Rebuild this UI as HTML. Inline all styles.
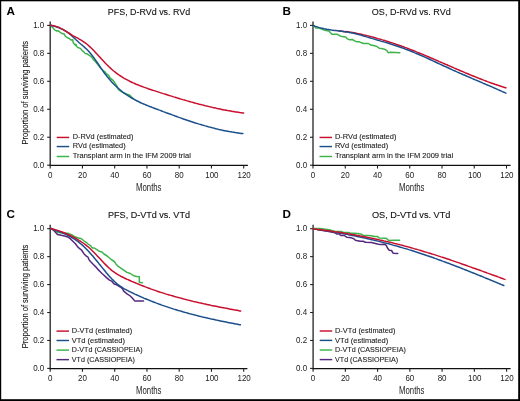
<!DOCTYPE html>
<html><head><meta charset="utf-8"><style>
html,body{margin:0;padding:0;background:#fff;width:520px;height:401px;overflow:hidden;font-family:"Liberation Sans",sans-serif;}
svg{display:block;will-change:transform}
</style></head><body>
<svg width="520" height="401" viewBox="0 0 520 401">
<rect width="520" height="401" fill="#fff"/>
<line x1="50.2" y1="21.5" x2="50.2" y2="165.98" stroke="#222" stroke-width="1.3"/>
<line x1="49.6" y1="165.38" x2="247.9" y2="165.38" stroke="#111" stroke-width="1.2"/>
<line x1="47.2" y1="165.20" x2="50.2" y2="165.20" stroke="#222" stroke-width="1.1"/>
<text transform="translate(44.30,167.65) scale(0.93,1)" text-anchor="end" font-size="8.6" font-family="Liberation Sans, sans-serif" fill="#1a1a1a">0.0</text>
<line x1="47.2" y1="137.24" x2="50.2" y2="137.24" stroke="#222" stroke-width="1.1"/>
<text transform="translate(44.30,139.69) scale(0.93,1)" text-anchor="end" font-size="8.6" font-family="Liberation Sans, sans-serif" fill="#1a1a1a">0.2</text>
<line x1="47.2" y1="109.28" x2="50.2" y2="109.28" stroke="#222" stroke-width="1.1"/>
<text transform="translate(44.30,111.73) scale(0.93,1)" text-anchor="end" font-size="8.6" font-family="Liberation Sans, sans-serif" fill="#1a1a1a">0.4</text>
<line x1="47.2" y1="81.32" x2="50.2" y2="81.32" stroke="#222" stroke-width="1.1"/>
<text transform="translate(44.30,83.77) scale(0.93,1)" text-anchor="end" font-size="8.6" font-family="Liberation Sans, sans-serif" fill="#1a1a1a">0.6</text>
<line x1="47.2" y1="53.36" x2="50.2" y2="53.36" stroke="#222" stroke-width="1.1"/>
<text transform="translate(44.30,55.81) scale(0.93,1)" text-anchor="end" font-size="8.6" font-family="Liberation Sans, sans-serif" fill="#1a1a1a">0.8</text>
<line x1="47.2" y1="25.40" x2="50.2" y2="25.40" stroke="#222" stroke-width="1.1"/>
<text transform="translate(44.30,27.85) scale(0.93,1)" text-anchor="end" font-size="8.6" font-family="Liberation Sans, sans-serif" fill="#1a1a1a">1.0</text>
<line x1="50.20" y1="165.38" x2="50.20" y2="168.57999999999998" stroke="#222" stroke-width="1.1"/>
<text transform="translate(50.20,177.80) scale(0.93,1)" text-anchor="middle" font-size="8.6" font-family="Liberation Sans, sans-serif" fill="#1a1a1a">0</text>
<line x1="82.45" y1="165.38" x2="82.45" y2="168.57999999999998" stroke="#222" stroke-width="1.1"/>
<text transform="translate(82.45,177.80) scale(0.93,1)" text-anchor="middle" font-size="8.6" font-family="Liberation Sans, sans-serif" fill="#1a1a1a">20</text>
<line x1="114.70" y1="165.38" x2="114.70" y2="168.57999999999998" stroke="#222" stroke-width="1.1"/>
<text transform="translate(114.70,177.80) scale(0.93,1)" text-anchor="middle" font-size="8.6" font-family="Liberation Sans, sans-serif" fill="#1a1a1a">40</text>
<line x1="146.95" y1="165.38" x2="146.95" y2="168.57999999999998" stroke="#222" stroke-width="1.1"/>
<text transform="translate(146.95,177.80) scale(0.93,1)" text-anchor="middle" font-size="8.6" font-family="Liberation Sans, sans-serif" fill="#1a1a1a">60</text>
<line x1="179.20" y1="165.38" x2="179.20" y2="168.57999999999998" stroke="#222" stroke-width="1.1"/>
<text transform="translate(179.20,177.80) scale(0.93,1)" text-anchor="middle" font-size="8.6" font-family="Liberation Sans, sans-serif" fill="#1a1a1a">80</text>
<line x1="211.45" y1="165.38" x2="211.45" y2="168.57999999999998" stroke="#222" stroke-width="1.1"/>
<text transform="translate(211.85,177.80) scale(0.93,1)" text-anchor="middle" font-size="8.6" font-family="Liberation Sans, sans-serif" fill="#1a1a1a">100</text>
<line x1="243.70" y1="165.38" x2="243.70" y2="168.57999999999998" stroke="#222" stroke-width="1.1"/>
<text transform="translate(244.10,177.80) scale(0.93,1)" text-anchor="middle" font-size="8.6" font-family="Liberation Sans, sans-serif" fill="#1a1a1a">120</text>
<text x="149" y="15" text-anchor="middle" font-size="9.6" font-family="Liberation Sans, sans-serif" fill="#111" stroke="#111" stroke-width="0.12" textLength="82.3" lengthAdjust="spacingAndGlyphs">PFS, D-RVd vs. RVd</text>
<text x="161.5" y="190.8" text-anchor="end" font-size="10" font-family="Liberation Sans, sans-serif" fill="#1a1a1a" textLength="25.4" lengthAdjust="spacingAndGlyphs">Months</text>
<text transform="translate(27.8,144.6) rotate(-90)" font-size="8.7" font-family="Liberation Sans, sans-serif" fill="#111" stroke="#111" stroke-width="0.08" textLength="103.6" lengthAdjust="spacingAndGlyphs">Proportion of surviving patients</text>
<text x="6.6" y="14.8" font-size="11.7" font-weight="bold" font-family="Liberation Sans, sans-serif" fill="#000">A</text>
<polyline points="50.7,25.3 52.9,27.7 54.6,29.9 56.8,31.0 58.4,30.7 60.1,32.3 62.3,33.7 63.9,33.7 65.5,36.4 67.7,37.8 69.4,38.6 71.0,40.0 72.7,39.7 73.2,42.5 75.4,45.2 76.0,44.4 76.6,46.5 78.5,47.8 80.4,48.4 82.0,50.4 83.8,51.9 85.0,53.4 86.8,53.7 88.6,54.9 91.0,56.4 92.5,57.9 93.4,59.7 93.9,59.9 96.0,62.2 99.0,66.0 101.0,68.6 103.5,70.8 104.5,71.3 106.0,73.4 108.8,75.6 110.0,77.8 113.0,80.3 115.2,83.4 117.0,86.3 118.5,89.6 121.0,91.3 124.0,93.0 127.0,94.3 129.9,95.3 131.0,96.5 134.3,99.5" fill="none" stroke="#3cb44a" stroke-width="1.5" stroke-linejoin="round" stroke-linecap="round"/>
<polyline points="50.7,25.3 52.2,25.7 53.7,26.1 55.2,26.5 56.7,27.0 58.2,27.5 59.7,28.1 61.2,28.7 62.7,29.4 64.2,30.2 65.7,31.1 67.2,32.1 68.7,33.2 70.2,34.4 71.7,35.8 73.2,37.1 74.7,38.5 76.2,40.0 77.7,41.3 79.2,42.7 80.7,44.0 82.2,45.2 83.7,46.5 85.2,47.9 86.7,49.2 88.2,50.7 89.7,52.4 91.2,54.2 92.7,56.1 94.2,58.1 95.7,60.3 97.2,62.5 98.7,64.7 100.2,67.0 101.7,69.2 103.2,71.4 104.7,73.5 106.2,75.4 107.7,77.3 109.2,79.1 110.7,80.8 112.2,82.4 113.7,84.0 115.2,85.5 116.7,86.9 118.2,88.2 119.7,89.5 121.2,90.8 122.7,92.0 124.2,93.1 125.7,94.2 127.2,95.2 128.7,96.2 130.2,97.1 131.7,98.0 133.2,98.9 134.7,99.7 136.2,100.5 137.7,101.2 139.2,102.0 140.7,102.7 142.2,103.4 143.7,104.0 145.2,104.6 146.7,105.3 148.2,105.9 149.7,106.5 151.2,107.0 152.7,107.6 154.2,108.2 155.7,108.8 157.2,109.3 158.7,109.9 160.2,110.4 161.7,111.0 163.2,111.6 164.7,112.1 166.2,112.7 167.7,113.2 169.2,113.8 170.7,114.3 172.2,114.9 173.7,115.4 175.2,116.0 176.7,116.5 178.2,117.1 179.7,117.6 181.2,118.1 182.7,118.7 184.2,119.2 185.7,119.7 187.2,120.2 188.7,120.7 190.2,121.2 191.7,121.7 193.2,122.2 194.7,122.7 196.2,123.2 197.7,123.6 199.2,124.1 200.7,124.5 202.2,125.0 203.7,125.4 205.2,125.9 206.7,126.3 208.2,126.7 209.7,127.1 211.2,127.5 212.7,127.9 214.2,128.3 215.7,128.7 217.2,129.0 218.7,129.4 220.2,129.7 221.7,130.1 223.2,130.4 224.7,130.7 226.2,131.0 227.7,131.3 229.2,131.6 230.7,131.8 232.2,132.1 233.7,132.3 235.2,132.6 236.7,132.8 238.2,133.0 239.7,133.2 241.2,133.4 242.7,133.5 242.9,133.5" fill="none" stroke="#1b4f8c" stroke-width="1.5" stroke-linejoin="round" stroke-linecap="round"/>
<polyline points="50.7,25.3 52.2,25.4 53.7,25.7 55.2,26.1 56.7,26.6 58.2,27.1 59.7,27.8 61.2,28.6 62.7,29.4 64.2,30.3 65.7,31.2 67.2,32.1 68.7,33.0 70.2,33.9 71.7,34.9 73.2,35.8 74.7,36.6 76.2,37.4 77.7,38.2 79.2,39.1 80.7,39.9 82.2,40.8 83.7,41.8 85.2,42.8 86.7,44.0 88.2,45.3 89.7,46.6 91.2,48.0 92.7,49.5 94.2,51.1 95.7,52.7 97.2,54.3 98.7,55.9 100.2,57.5 101.7,59.2 103.2,60.8 104.7,62.4 106.2,64.0 107.7,65.5 109.2,67.0 110.7,68.4 112.2,69.7 113.7,71.0 115.2,72.2 116.7,73.3 118.2,74.4 119.7,75.5 121.2,76.4 122.7,77.4 124.2,78.3 125.7,79.1 127.2,79.9 128.7,80.7 130.2,81.5 131.7,82.2 133.2,82.9 134.7,83.5 136.2,84.2 137.7,84.8 139.2,85.4 140.7,86.0 142.2,86.5 143.7,87.1 145.2,87.6 146.7,88.1 148.2,88.7 149.7,89.2 151.2,89.7 152.7,90.2 154.2,90.6 155.7,91.1 157.2,91.6 158.7,92.1 160.2,92.6 161.7,93.1 163.2,93.6 164.7,94.0 166.2,94.5 167.7,95.0 169.2,95.5 170.7,95.9 172.2,96.4 173.7,96.9 175.2,97.3 176.7,97.8 178.2,98.2 179.7,98.7 181.2,99.1 182.7,99.6 184.2,100.0 185.7,100.4 187.2,100.9 188.7,101.3 190.2,101.7 191.7,102.1 193.2,102.5 194.7,103.0 196.2,103.4 197.7,103.8 199.2,104.2 200.7,104.5 202.2,104.9 203.7,105.3 205.2,105.7 206.7,106.0 208.2,106.4 209.7,106.8 211.2,107.1 212.7,107.5 214.2,107.8 215.7,108.1 217.2,108.5 218.7,108.8 220.2,109.1 221.7,109.4 223.2,109.7 224.7,110.0 226.2,110.3 227.7,110.6 229.2,110.8 230.7,111.1 232.2,111.4 233.7,111.6 235.2,111.9 236.7,112.1 238.2,112.3 239.7,112.6 241.2,112.8 242.7,113.0 243.6,113.1" fill="none" stroke="#c8102e" stroke-width="1.5" stroke-linejoin="round" stroke-linecap="round"/>
<line x1="56.699999999999996" y1="137.45" x2="69.2" y2="137.45" stroke="#c8102e" stroke-width="1.45"/>
<text x="72.80" y="139.15" font-size="7.9" font-family="Liberation Sans, sans-serif" fill="#1a1a1a" stroke="#1a1a1a" stroke-width="0.1" textLength="60.6" lengthAdjust="spacingAndGlyphs">D-RVd (estimated)</text>
<line x1="56.699999999999996" y1="146.55" x2="69.2" y2="146.55" stroke="#1b4f8c" stroke-width="1.45"/>
<text x="72.80" y="148.25" font-size="7.9" font-family="Liberation Sans, sans-serif" fill="#1a1a1a" stroke="#1a1a1a" stroke-width="0.1" textLength="52.8" lengthAdjust="spacingAndGlyphs">RVd (estimated)</text>
<line x1="56.699999999999996" y1="156.50" x2="69.2" y2="156.50" stroke="#3cb44a" stroke-width="1.45"/>
<text x="72.80" y="158.20" font-size="7.9" font-family="Liberation Sans, sans-serif" fill="#1a1a1a" stroke="#1a1a1a" stroke-width="0.1" textLength="118" lengthAdjust="spacingAndGlyphs">Transplant arm in the IFM 2009 trial</text>
<line x1="313.0" y1="21.5" x2="313.0" y2="165.98" stroke="#222" stroke-width="1.3"/>
<line x1="312.4" y1="165.38" x2="510.6" y2="165.38" stroke="#111" stroke-width="1.2"/>
<line x1="310.0" y1="165.20" x2="313.0" y2="165.20" stroke="#222" stroke-width="1.1"/>
<text transform="translate(307.10,167.65) scale(0.93,1)" text-anchor="end" font-size="8.6" font-family="Liberation Sans, sans-serif" fill="#1a1a1a">0.0</text>
<line x1="310.0" y1="137.24" x2="313.0" y2="137.24" stroke="#222" stroke-width="1.1"/>
<text transform="translate(307.10,139.69) scale(0.93,1)" text-anchor="end" font-size="8.6" font-family="Liberation Sans, sans-serif" fill="#1a1a1a">0.2</text>
<line x1="310.0" y1="109.28" x2="313.0" y2="109.28" stroke="#222" stroke-width="1.1"/>
<text transform="translate(307.10,111.73) scale(0.93,1)" text-anchor="end" font-size="8.6" font-family="Liberation Sans, sans-serif" fill="#1a1a1a">0.4</text>
<line x1="310.0" y1="81.32" x2="313.0" y2="81.32" stroke="#222" stroke-width="1.1"/>
<text transform="translate(307.10,83.77) scale(0.93,1)" text-anchor="end" font-size="8.6" font-family="Liberation Sans, sans-serif" fill="#1a1a1a">0.6</text>
<line x1="310.0" y1="53.36" x2="313.0" y2="53.36" stroke="#222" stroke-width="1.1"/>
<text transform="translate(307.10,55.81) scale(0.93,1)" text-anchor="end" font-size="8.6" font-family="Liberation Sans, sans-serif" fill="#1a1a1a">0.8</text>
<line x1="310.0" y1="25.40" x2="313.0" y2="25.40" stroke="#222" stroke-width="1.1"/>
<text transform="translate(307.10,27.85) scale(0.93,1)" text-anchor="end" font-size="8.6" font-family="Liberation Sans, sans-serif" fill="#1a1a1a">1.0</text>
<line x1="313.00" y1="165.38" x2="313.00" y2="168.57999999999998" stroke="#222" stroke-width="1.1"/>
<text transform="translate(313.00,177.80) scale(0.93,1)" text-anchor="middle" font-size="8.6" font-family="Liberation Sans, sans-serif" fill="#1a1a1a">0</text>
<line x1="345.25" y1="165.38" x2="345.25" y2="168.57999999999998" stroke="#222" stroke-width="1.1"/>
<text transform="translate(345.25,177.80) scale(0.93,1)" text-anchor="middle" font-size="8.6" font-family="Liberation Sans, sans-serif" fill="#1a1a1a">20</text>
<line x1="377.50" y1="165.38" x2="377.50" y2="168.57999999999998" stroke="#222" stroke-width="1.1"/>
<text transform="translate(377.50,177.80) scale(0.93,1)" text-anchor="middle" font-size="8.6" font-family="Liberation Sans, sans-serif" fill="#1a1a1a">40</text>
<line x1="409.75" y1="165.38" x2="409.75" y2="168.57999999999998" stroke="#222" stroke-width="1.1"/>
<text transform="translate(409.75,177.80) scale(0.93,1)" text-anchor="middle" font-size="8.6" font-family="Liberation Sans, sans-serif" fill="#1a1a1a">60</text>
<line x1="442.00" y1="165.38" x2="442.00" y2="168.57999999999998" stroke="#222" stroke-width="1.1"/>
<text transform="translate(442.00,177.80) scale(0.93,1)" text-anchor="middle" font-size="8.6" font-family="Liberation Sans, sans-serif" fill="#1a1a1a">80</text>
<line x1="474.25" y1="165.38" x2="474.25" y2="168.57999999999998" stroke="#222" stroke-width="1.1"/>
<text transform="translate(474.65,177.80) scale(0.93,1)" text-anchor="middle" font-size="8.6" font-family="Liberation Sans, sans-serif" fill="#1a1a1a">100</text>
<line x1="506.50" y1="165.38" x2="506.50" y2="168.57999999999998" stroke="#222" stroke-width="1.1"/>
<text transform="translate(506.90,177.80) scale(0.93,1)" text-anchor="middle" font-size="8.6" font-family="Liberation Sans, sans-serif" fill="#1a1a1a">120</text>
<text x="411.3" y="15" text-anchor="middle" font-size="9.6" font-family="Liberation Sans, sans-serif" fill="#111" stroke="#111" stroke-width="0.12" textLength="78.9" lengthAdjust="spacingAndGlyphs">OS, D-RVd vs. RVd</text>
<text x="424.5" y="190.8" text-anchor="end" font-size="10" font-family="Liberation Sans, sans-serif" fill="#1a1a1a" textLength="25.4" lengthAdjust="spacingAndGlyphs">Months</text>
<text x="282.6" y="15" font-size="11.7" font-weight="bold" font-family="Liberation Sans, sans-serif" fill="#000">B</text>
<polyline points="313.9,25.5 315.1,27.0 315.8,28.0 318.2,28.0 320.5,28.5 323.5,29.7 325.8,30.5 328.9,31.1 330.5,32.8 332.0,34.3 337.4,34.3 339.7,35.7 342.0,36.6 345.8,37.0 347.4,38.9 349.7,39.7 352.3,39.5 354.6,40.9 356.9,41.8 359.6,41.8 361.5,42.8 363.8,43.5 368.5,43.5 370.8,45.1 374.6,45.8 376.9,46.5 379.2,48.2 381.5,48.6 384.6,49.2 386.9,50.6 388.4,52.8 390.6,52.3 395.2,52.5 399.8,52.8" fill="none" stroke="#3cb44a" stroke-width="1.5" stroke-linejoin="round" stroke-linecap="round"/>
<polyline points="338.9,30.9 340.4,31.1 341.9,31.3 343.4,31.5 344.9,31.7 346.4,31.6 347.9,31.8 349.4,32.1 350.9,32.3 352.4,32.5 353.9,32.8 355.4,33.1 356.9,33.4 358.4,33.7 359.9,34.0 361.4,34.3 362.9,34.7 364.4,35.0 365.9,35.4 367.4,35.8 368.9,36.1 370.4,36.5 371.9,36.9 373.4,37.3 374.9,37.7 376.4,38.1 377.9,38.6 379.4,39.0 380.9,39.4 382.4,39.9 383.9,40.3 385.4,40.8 386.9,41.2 388.4,41.7 389.9,42.2 391.4,42.6 392.9,43.1 394.4,43.6 395.9,44.2 397.4,44.7 398.9,45.2 400.4,45.7 401.9,46.3 403.4,46.8 404.9,47.4 406.4,47.9 407.9,48.5 409.4,49.1 410.9,49.7 412.4,50.3 413.9,50.8 415.4,51.4 416.9,52.1 418.4,52.7 419.9,53.3 421.4,53.9 422.9,54.5 424.4,55.1 425.9,55.8 427.4,56.4 428.9,57.0 430.4,57.7 431.9,58.3 433.4,59.0 434.9,59.6 436.4,60.3 437.9,60.9 439.4,61.6 440.9,62.2 442.4,62.9 443.9,63.5 445.4,64.2 446.9,64.8 448.4,65.5 449.9,66.1 451.4,66.8 452.9,67.4 454.4,68.1 455.9,68.7 457.4,69.4 458.9,70.0 460.4,70.7 461.9,71.3 463.4,71.9 464.9,72.6 466.4,73.2 467.9,73.8 469.4,74.5 470.9,75.1 472.4,75.7 473.9,76.3 475.4,76.9 476.9,77.5 478.4,78.1 479.9,78.7 481.4,79.3 482.9,79.9 484.4,80.4 485.9,81.0 487.4,81.6 488.9,82.1 490.4,82.7 491.9,83.2 493.4,83.7 494.9,84.3 496.4,84.8 497.9,85.3 499.4,85.8 500.9,86.3 502.4,86.8 503.9,87.2 505.4,87.7 505.9,87.8" fill="none" stroke="#c8102e" stroke-width="1.5" stroke-linejoin="round" stroke-linecap="round"/>
<polyline points="313.4,25.5 314.9,26.1 316.4,26.6 317.9,27.1 319.4,27.6 320.9,28.0 322.4,28.3 323.9,28.7 325.4,29.0 326.9,29.3 328.4,29.5 329.9,29.7 331.4,30.0 332.9,30.2 334.4,30.4 335.9,30.5 337.4,30.7 338.9,30.9 340.4,31.1 341.9,31.3 343.4,31.5 344.9,31.7 346.4,31.9 347.9,32.1 349.4,32.4 350.9,32.7 352.4,33.0 353.9,33.3 355.4,33.7 356.9,34.1 358.4,34.5 359.9,34.9 361.4,35.3 362.9,35.7 364.4,36.2 365.9,36.6 367.4,37.1 368.9,37.5 370.4,38.0 371.9,38.4 373.4,38.9 374.9,39.3 376.4,39.8 377.9,40.2 379.4,40.6 380.9,41.1 382.4,41.5 383.9,41.9 385.4,42.4 386.9,42.8 388.4,43.3 389.9,43.7 391.4,44.2 392.9,44.7 394.4,45.2 395.9,45.7 397.4,46.2 398.9,46.7 400.4,47.2 401.9,47.8 403.4,48.3 404.9,48.9 406.4,49.5 407.9,50.0 409.4,50.6 410.9,51.2 412.4,51.8 413.9,52.4 415.4,53.1 416.9,53.7 418.4,54.3 419.9,55.0 421.4,55.6 422.9,56.3 424.4,56.9 425.9,57.6 427.4,58.3 428.9,59.0 430.4,59.7 431.9,60.4 433.4,61.1 434.9,61.8 436.4,62.5 437.9,63.2 439.4,63.9 440.9,64.6 442.4,65.3 443.9,66.0 445.4,66.6 446.9,67.3 448.4,68.0 449.9,68.7 451.4,69.4 452.9,70.1 454.4,70.7 455.9,71.4 457.4,72.1 458.9,72.7 460.4,73.4 461.9,74.0 463.4,74.7 464.9,75.3 466.4,76.0 467.9,76.6 469.4,77.3 470.9,77.9 472.4,78.6 473.9,79.2 475.4,79.9 476.9,80.5 478.4,81.1 479.9,81.8 481.4,82.4 482.9,83.1 484.4,83.7 485.9,84.4 487.4,85.0 488.9,85.6 490.4,86.3 491.9,86.9 493.4,87.6 494.9,88.3 496.4,88.9 497.9,89.6 499.4,90.2 500.9,90.9 502.4,91.6 503.9,92.2 505.4,92.9 505.9,93.1" fill="none" stroke="#1b4f8c" stroke-width="1.5" stroke-linejoin="round" stroke-linecap="round"/>
<line x1="319.5" y1="137.45" x2="332.0" y2="137.45" stroke="#c8102e" stroke-width="1.45"/>
<text x="334.90" y="139.15" font-size="7.9" font-family="Liberation Sans, sans-serif" fill="#1a1a1a" stroke="#1a1a1a" stroke-width="0.1" textLength="61.5" lengthAdjust="spacingAndGlyphs">D-RVd (estimated)</text>
<line x1="319.5" y1="146.55" x2="332.0" y2="146.55" stroke="#1b4f8c" stroke-width="1.45"/>
<text x="334.90" y="148.25" font-size="7.9" font-family="Liberation Sans, sans-serif" fill="#1a1a1a" stroke="#1a1a1a" stroke-width="0.1" textLength="53.3" lengthAdjust="spacingAndGlyphs">RVd (estimated)</text>
<line x1="319.5" y1="156.50" x2="332.0" y2="156.50" stroke="#3cb44a" stroke-width="1.45"/>
<text x="334.90" y="158.20" font-size="7.9" font-family="Liberation Sans, sans-serif" fill="#1a1a1a" stroke="#1a1a1a" stroke-width="0.1" textLength="118.2" lengthAdjust="spacingAndGlyphs">Transplant arm in the IFM 2009 trial</text>
<line x1="50.2" y1="224.79999999999998" x2="50.2" y2="369.22" stroke="#222" stroke-width="1.3"/>
<line x1="49.6" y1="368.62" x2="247.4" y2="368.62" stroke="#111" stroke-width="1.2"/>
<line x1="47.2" y1="368.40" x2="50.2" y2="368.40" stroke="#222" stroke-width="1.1"/>
<text transform="translate(44.30,370.85) scale(0.93,1)" text-anchor="end" font-size="8.6" font-family="Liberation Sans, sans-serif" fill="#1a1a1a">0.0</text>
<line x1="47.2" y1="340.46" x2="50.2" y2="340.46" stroke="#222" stroke-width="1.1"/>
<text transform="translate(44.30,342.91) scale(0.93,1)" text-anchor="end" font-size="8.6" font-family="Liberation Sans, sans-serif" fill="#1a1a1a">0.2</text>
<line x1="47.2" y1="312.52" x2="50.2" y2="312.52" stroke="#222" stroke-width="1.1"/>
<text transform="translate(44.30,314.97) scale(0.93,1)" text-anchor="end" font-size="8.6" font-family="Liberation Sans, sans-serif" fill="#1a1a1a">0.4</text>
<line x1="47.2" y1="284.58" x2="50.2" y2="284.58" stroke="#222" stroke-width="1.1"/>
<text transform="translate(44.30,287.03) scale(0.93,1)" text-anchor="end" font-size="8.6" font-family="Liberation Sans, sans-serif" fill="#1a1a1a">0.6</text>
<line x1="47.2" y1="256.64" x2="50.2" y2="256.64" stroke="#222" stroke-width="1.1"/>
<text transform="translate(44.30,259.09) scale(0.93,1)" text-anchor="end" font-size="8.6" font-family="Liberation Sans, sans-serif" fill="#1a1a1a">0.8</text>
<line x1="47.2" y1="228.70" x2="50.2" y2="228.70" stroke="#222" stroke-width="1.1"/>
<text transform="translate(44.30,231.15) scale(0.93,1)" text-anchor="end" font-size="8.6" font-family="Liberation Sans, sans-serif" fill="#1a1a1a">1.0</text>
<line x1="50.20" y1="368.62" x2="50.20" y2="371.82" stroke="#222" stroke-width="1.1"/>
<text transform="translate(50.20,381.00) scale(0.93,1)" text-anchor="middle" font-size="8.6" font-family="Liberation Sans, sans-serif" fill="#1a1a1a">0</text>
<line x1="82.45" y1="368.62" x2="82.45" y2="371.82" stroke="#222" stroke-width="1.1"/>
<text transform="translate(82.45,381.00) scale(0.93,1)" text-anchor="middle" font-size="8.6" font-family="Liberation Sans, sans-serif" fill="#1a1a1a">20</text>
<line x1="114.70" y1="368.62" x2="114.70" y2="371.82" stroke="#222" stroke-width="1.1"/>
<text transform="translate(114.70,381.00) scale(0.93,1)" text-anchor="middle" font-size="8.6" font-family="Liberation Sans, sans-serif" fill="#1a1a1a">40</text>
<line x1="146.95" y1="368.62" x2="146.95" y2="371.82" stroke="#222" stroke-width="1.1"/>
<text transform="translate(146.95,381.00) scale(0.93,1)" text-anchor="middle" font-size="8.6" font-family="Liberation Sans, sans-serif" fill="#1a1a1a">60</text>
<line x1="179.20" y1="368.62" x2="179.20" y2="371.82" stroke="#222" stroke-width="1.1"/>
<text transform="translate(179.20,381.00) scale(0.93,1)" text-anchor="middle" font-size="8.6" font-family="Liberation Sans, sans-serif" fill="#1a1a1a">80</text>
<line x1="211.45" y1="368.62" x2="211.45" y2="371.82" stroke="#222" stroke-width="1.1"/>
<text transform="translate(211.85,381.00) scale(0.93,1)" text-anchor="middle" font-size="8.6" font-family="Liberation Sans, sans-serif" fill="#1a1a1a">100</text>
<line x1="243.70" y1="368.62" x2="243.70" y2="371.82" stroke="#222" stroke-width="1.1"/>
<text transform="translate(244.10,381.00) scale(0.93,1)" text-anchor="middle" font-size="8.6" font-family="Liberation Sans, sans-serif" fill="#1a1a1a">120</text>
<text x="149" y="218.3" text-anchor="middle" font-size="9.6" font-family="Liberation Sans, sans-serif" fill="#111" stroke="#111" stroke-width="0.12" textLength="81.9" lengthAdjust="spacingAndGlyphs">PFS, D-VTd vs. VTd</text>
<text x="161.5" y="394.2" text-anchor="end" font-size="10" font-family="Liberation Sans, sans-serif" fill="#1a1a1a" textLength="25.4" lengthAdjust="spacingAndGlyphs">Months</text>
<text transform="translate(27.8,348.2) rotate(-90)" font-size="8.7" font-family="Liberation Sans, sans-serif" fill="#111" stroke="#111" stroke-width="0.08" textLength="103.6" lengthAdjust="spacingAndGlyphs">Proportion of surviving patients</text>
<text x="6.4" y="218.4" font-size="11.7" font-weight="bold" font-family="Liberation Sans, sans-serif" fill="#000">C</text>
<polyline points="50.8,228.5 53.8,229.6 56.2,231.2 57.7,232.3 60.0,232.7 63.8,233.3 67.7,233.3 70.0,234.1 72.3,235.0 73.8,236.2 76.2,237.2 78.5,238.1 81.5,238.8 83.8,240.8 86.2,242.3 88.0,244.0 90.4,245.6 92.4,248.0 94.4,248.0 96.8,249.6 99.2,251.2 102.0,252.0 104.0,254.0 107.2,256.0 109.5,258.0 111.9,260.0 114.3,261.5 115.9,263.9 118.3,266.4 121.5,268.6 124.8,270.8 127.0,272.4 130.3,273.5 133.6,275.7 136.9,276.5 139.3,276.8 139.3,282.3 142.4,282.8" fill="none" stroke="#3cb44a" stroke-width="1.5" stroke-linejoin="round" stroke-linecap="round"/>
<polyline points="50.8,228.5 53.8,230.4 56.2,233.1 57.7,234.6 60.0,235.0 62.3,235.4 65.4,236.2 68.5,237.3 70.8,239.2 73.1,241.5 75.4,243.8 76.9,245.8 78.5,247.7 80.0,248.8 81.5,250.0 83.9,253.7 86.4,256.2 88.0,257.2 89.2,260.0 91.2,262.3 93.6,264.7 96.0,267.1 98.4,269.9 100.0,271.5 102.0,273.5 104.0,275.2 106.2,277.4 109.5,280.1 111.7,281.2 113.9,283.7 117.2,285.0 120.4,287.0 122.6,288.9 123.7,291.1 127.0,293.8 130.3,296.0 132.5,298.2 134.7,300.9 143.5,300.9" fill="none" stroke="#56277f" stroke-width="1.5" stroke-linejoin="round" stroke-linecap="round"/>
<polyline points="50.8,228.5 52.3,229.0 53.8,229.6 55.3,230.1 56.8,230.7 58.3,231.2 59.8,231.8 61.3,232.4 62.8,233.0 64.3,233.7 65.8,234.3 67.3,235.0 68.8,235.8 70.3,236.6 71.8,237.5 73.3,238.4 74.8,239.3 76.3,240.3 77.8,241.4 79.3,242.6 80.8,243.8 82.3,245.1 83.8,246.5 85.3,248.0 86.8,249.5 88.3,251.0 89.8,252.7 91.3,254.4 92.8,256.1 94.3,257.9 95.8,259.7 97.3,261.5 98.8,263.4 100.3,265.2 101.8,267.1 103.3,269.0 104.8,270.8 106.3,272.7 107.8,274.4 109.3,276.2 110.8,277.8 112.3,279.4 113.8,280.9 115.3,282.3 116.8,283.6 118.3,284.8 119.8,285.9 121.3,286.9 122.8,287.9 124.3,288.8 125.8,289.6 127.3,290.4 128.8,291.2 130.3,291.9 131.8,292.6 133.3,293.3 134.8,294.1 136.3,294.7 137.8,295.4 139.3,296.1 140.8,296.8 142.3,297.4 143.8,298.1 145.3,298.7 146.8,299.3 148.3,299.9 149.8,300.5 151.3,301.1 152.8,301.7 154.3,302.3 155.8,302.9 157.3,303.4 158.8,304.0 160.3,304.5 161.8,305.1 163.3,305.6 164.8,306.1 166.3,306.6 167.8,307.1 169.3,307.6 170.8,308.1 172.3,308.6 173.8,309.1 175.3,309.5 176.8,310.0 178.3,310.5 179.8,310.9 181.3,311.3 182.8,311.8 184.3,312.2 185.8,312.6 187.3,313.0 188.8,313.5 190.3,313.9 191.8,314.3 193.3,314.6 194.8,315.0 196.3,315.4 197.8,315.8 199.3,316.2 200.8,316.5 202.3,316.9 203.8,317.2 205.3,317.6 206.8,317.9 208.3,318.3 209.8,318.6 211.3,319.0 212.8,319.3 214.3,319.6 215.8,319.9 217.3,320.3 218.8,320.6 220.3,320.9 221.8,321.2 223.3,321.5 224.8,321.8 226.3,322.1 227.8,322.4 229.3,322.7 230.8,323.0 232.3,323.3 233.8,323.6 235.3,323.9 236.8,324.1 238.3,324.4 239.8,324.7 240.4,324.8" fill="none" stroke="#1b4f8c" stroke-width="1.5" stroke-linejoin="round" stroke-linecap="round"/>
<polyline points="50.8,228.5 52.3,228.9 53.8,229.2 55.3,229.7 56.8,230.1 58.3,230.6 59.8,231.1 61.3,231.6 62.8,232.2 64.3,232.8 65.8,233.4 67.3,234.1 68.8,234.8 70.3,235.5 71.8,236.3 73.3,237.1 74.8,237.9 76.3,238.7 77.8,239.6 79.3,240.6 80.8,241.5 82.3,242.5 83.8,243.5 85.3,244.6 86.8,245.8 88.3,247.0 89.8,248.3 91.3,249.7 92.8,251.2 94.3,252.7 95.8,254.3 97.3,255.9 98.8,257.5 100.3,259.1 101.8,260.7 103.3,262.3 104.8,263.9 106.3,265.4 107.8,266.9 109.3,268.2 110.8,269.6 112.3,270.8 113.8,271.9 115.3,273.0 116.8,273.9 118.3,274.8 119.8,275.7 121.3,276.5 122.8,277.2 124.3,278.0 125.8,278.7 127.3,279.4 128.8,280.0 130.3,280.7 131.8,281.4 133.3,282.0 134.8,282.6 136.3,283.3 137.8,283.9 139.3,284.5 140.8,285.1 142.3,285.7 143.8,286.3 145.3,286.9 146.8,287.4 148.3,288.0 149.8,288.5 151.3,289.1 152.8,289.6 154.3,290.1 155.8,290.6 157.3,291.2 158.8,291.7 160.3,292.2 161.8,292.6 163.3,293.1 164.8,293.6 166.3,294.1 167.8,294.5 169.3,295.0 170.8,295.4 172.3,295.8 173.8,296.3 175.3,296.7 176.8,297.1 178.3,297.5 179.8,297.9 181.3,298.3 182.8,298.7 184.3,299.1 185.8,299.5 187.3,299.9 188.8,300.3 190.3,300.6 191.8,301.0 193.3,301.4 194.8,301.7 196.3,302.1 197.8,302.4 199.3,302.8 200.8,303.1 202.3,303.4 203.8,303.8 205.3,304.1 206.8,304.4 208.3,304.7 209.8,305.0 211.3,305.4 212.8,305.7 214.3,306.0 215.8,306.3 217.3,306.6 218.8,306.9 220.3,307.2 221.8,307.5 223.3,307.8 224.8,308.1 226.3,308.3 227.8,308.6 229.3,308.9 230.8,309.2 232.3,309.5 233.8,309.8 235.3,310.0 236.8,310.3 238.3,310.6 239.8,310.9 240.7,311.0" fill="none" stroke="#c8102e" stroke-width="1.5" stroke-linejoin="round" stroke-linecap="round"/>
<line x1="56.5" y1="331.10" x2="69.0" y2="331.10" stroke="#c8102e" stroke-width="1.45"/>
<text x="71.80" y="333.30" font-size="7.9" font-family="Liberation Sans, sans-serif" fill="#1a1a1a" stroke="#1a1a1a" stroke-width="0.1" textLength="60.4" lengthAdjust="spacingAndGlyphs">D-VTd (estimated)</text>
<line x1="56.5" y1="340.50" x2="69.0" y2="340.50" stroke="#1b4f8c" stroke-width="1.45"/>
<text x="71.80" y="342.70" font-size="7.9" font-family="Liberation Sans, sans-serif" fill="#1a1a1a" stroke="#1a1a1a" stroke-width="0.1" textLength="53.2" lengthAdjust="spacingAndGlyphs">VTd (estimated)</text>
<line x1="56.5" y1="350.10" x2="69.0" y2="350.10" stroke="#3cb44a" stroke-width="1.45"/>
<text x="71.80" y="352.30" font-size="7.9" font-family="Liberation Sans, sans-serif" fill="#1a1a1a" stroke="#1a1a1a" stroke-width="0.1" textLength="70.8" lengthAdjust="spacingAndGlyphs">D-VTd (CASSIOPEIA)</text>
<line x1="56.5" y1="359.65" x2="69.0" y2="359.65" stroke="#56277f" stroke-width="1.45"/>
<text x="71.80" y="361.85" font-size="7.9" font-family="Liberation Sans, sans-serif" fill="#1a1a1a" stroke="#1a1a1a" stroke-width="0.1" textLength="63.1" lengthAdjust="spacingAndGlyphs">VTd (CASSIOPEIA)</text>
<line x1="313.1" y1="224.79999999999998" x2="313.1" y2="369.22" stroke="#222" stroke-width="1.3"/>
<line x1="312.5" y1="368.62" x2="510.6" y2="368.62" stroke="#111" stroke-width="1.2"/>
<line x1="310.1" y1="368.40" x2="313.1" y2="368.40" stroke="#222" stroke-width="1.1"/>
<text transform="translate(307.20,370.85) scale(0.93,1)" text-anchor="end" font-size="8.6" font-family="Liberation Sans, sans-serif" fill="#1a1a1a">0.0</text>
<line x1="310.1" y1="340.46" x2="313.1" y2="340.46" stroke="#222" stroke-width="1.1"/>
<text transform="translate(307.20,342.91) scale(0.93,1)" text-anchor="end" font-size="8.6" font-family="Liberation Sans, sans-serif" fill="#1a1a1a">0.2</text>
<line x1="310.1" y1="312.52" x2="313.1" y2="312.52" stroke="#222" stroke-width="1.1"/>
<text transform="translate(307.20,314.97) scale(0.93,1)" text-anchor="end" font-size="8.6" font-family="Liberation Sans, sans-serif" fill="#1a1a1a">0.4</text>
<line x1="310.1" y1="284.58" x2="313.1" y2="284.58" stroke="#222" stroke-width="1.1"/>
<text transform="translate(307.20,287.03) scale(0.93,1)" text-anchor="end" font-size="8.6" font-family="Liberation Sans, sans-serif" fill="#1a1a1a">0.6</text>
<line x1="310.1" y1="256.64" x2="313.1" y2="256.64" stroke="#222" stroke-width="1.1"/>
<text transform="translate(307.20,259.09) scale(0.93,1)" text-anchor="end" font-size="8.6" font-family="Liberation Sans, sans-serif" fill="#1a1a1a">0.8</text>
<line x1="310.1" y1="228.70" x2="313.1" y2="228.70" stroke="#222" stroke-width="1.1"/>
<text transform="translate(307.20,231.15) scale(0.93,1)" text-anchor="end" font-size="8.6" font-family="Liberation Sans, sans-serif" fill="#1a1a1a">1.0</text>
<line x1="313.10" y1="368.62" x2="313.10" y2="371.82" stroke="#222" stroke-width="1.1"/>
<text transform="translate(313.10,381.00) scale(0.93,1)" text-anchor="middle" font-size="8.6" font-family="Liberation Sans, sans-serif" fill="#1a1a1a">0</text>
<line x1="345.35" y1="368.62" x2="345.35" y2="371.82" stroke="#222" stroke-width="1.1"/>
<text transform="translate(345.35,381.00) scale(0.93,1)" text-anchor="middle" font-size="8.6" font-family="Liberation Sans, sans-serif" fill="#1a1a1a">20</text>
<line x1="377.60" y1="368.62" x2="377.60" y2="371.82" stroke="#222" stroke-width="1.1"/>
<text transform="translate(377.60,381.00) scale(0.93,1)" text-anchor="middle" font-size="8.6" font-family="Liberation Sans, sans-serif" fill="#1a1a1a">40</text>
<line x1="409.85" y1="368.62" x2="409.85" y2="371.82" stroke="#222" stroke-width="1.1"/>
<text transform="translate(409.85,381.00) scale(0.93,1)" text-anchor="middle" font-size="8.6" font-family="Liberation Sans, sans-serif" fill="#1a1a1a">60</text>
<line x1="442.10" y1="368.62" x2="442.10" y2="371.82" stroke="#222" stroke-width="1.1"/>
<text transform="translate(442.10,381.00) scale(0.93,1)" text-anchor="middle" font-size="8.6" font-family="Liberation Sans, sans-serif" fill="#1a1a1a">80</text>
<line x1="474.35" y1="368.62" x2="474.35" y2="371.82" stroke="#222" stroke-width="1.1"/>
<text transform="translate(474.75,381.00) scale(0.93,1)" text-anchor="middle" font-size="8.6" font-family="Liberation Sans, sans-serif" fill="#1a1a1a">100</text>
<line x1="506.60" y1="368.62" x2="506.60" y2="371.82" stroke="#222" stroke-width="1.1"/>
<text transform="translate(507.00,381.00) scale(0.93,1)" text-anchor="middle" font-size="8.6" font-family="Liberation Sans, sans-serif" fill="#1a1a1a">120</text>
<text x="411.2" y="218.3" text-anchor="middle" font-size="9.6" font-family="Liberation Sans, sans-serif" fill="#111" stroke="#111" stroke-width="0.12" textLength="78.5" lengthAdjust="spacingAndGlyphs">OS, D-VTd vs. VTd</text>
<text x="424.5" y="394.2" text-anchor="end" font-size="10" font-family="Liberation Sans, sans-serif" fill="#1a1a1a" textLength="25.4" lengthAdjust="spacingAndGlyphs">Months</text>
<text x="282.4" y="218.2" font-size="11.7" font-weight="bold" font-family="Liberation Sans, sans-serif" fill="#000">D</text>
<polyline points="313.5,228.8 319.7,230.1 327.4,231.3 335.1,232.8 336.6,234.0 338.9,234.0 340.8,235.4 344.3,235.5 346.6,237.2 349.7,237.5 352.0,238.1 353.8,238.8 355.4,240.3 357.7,240.7 360.0,241.2 363.1,241.2 365.4,242.2 371.5,242.6 375.4,243.4 378.5,244.2 380.8,244.4 384.6,244.2 386.2,245.4 387.7,248.3 389.2,250.2 391.5,250.5 393.1,253.2 397.7,253.4" fill="none" stroke="#56277f" stroke-width="1.5" stroke-linejoin="round" stroke-linecap="round"/>
<polyline points="313.5,228.8 315.0,229.0 316.5,229.2 318.0,229.5 319.5,229.7 321.0,229.9 322.5,230.1 324.0,230.4 325.5,230.6 327.0,230.9 328.5,231.1 330.0,231.3 331.5,231.6 333.0,231.8 334.5,232.1 336.0,232.4 337.5,232.6 339.0,232.9 340.5,233.2 342.0,233.4 343.5,233.7 345.0,234.0 346.5,234.3 348.0,234.6 349.5,234.9 351.0,235.2 352.5,235.5 354.0,235.8 355.5,236.1 357.0,236.4 358.5,236.7 360.0,237.0 361.5,237.3 363.0,237.7 364.5,238.0 366.0,238.3 367.5,238.7 369.0,239.0 370.5,239.4 372.0,239.7 373.5,240.1 375.0,240.4 376.5,240.8 378.0,241.1 379.5,241.5 381.0,241.9 382.5,242.3 384.0,242.7 385.5,243.0 387.0,243.4 388.5,243.8 390.0,244.2 391.5,244.6 393.0,245.1 394.5,245.5 396.0,245.9 397.5,246.3 399.0,246.7 400.5,247.2 402.0,247.6 403.5,248.1 405.0,248.5 406.5,248.9 408.0,249.4 409.5,249.9 411.0,250.3 412.5,250.8 414.0,251.3 415.5,251.8 417.0,252.2 418.5,252.7 420.0,253.2 421.5,253.7 423.0,254.2 424.5,254.7 426.0,255.2 427.5,255.8 429.0,256.3 430.5,256.8 432.0,257.3 433.5,257.8 435.0,258.4 436.5,258.9 438.0,259.5 439.5,260.0 441.0,260.5 442.5,261.1 444.0,261.6 445.5,262.2 447.0,262.8 448.5,263.3 450.0,263.9 451.5,264.5 453.0,265.0 454.5,265.6 456.0,266.2 457.5,266.8 459.0,267.3 460.5,267.9 462.0,268.5 463.5,269.1 465.0,269.7 466.5,270.3 468.0,270.9 469.5,271.5 471.0,272.1 472.5,272.7 474.0,273.3 475.5,273.9 477.0,274.5 478.5,275.1 480.0,275.7 481.5,276.3 483.0,276.9 484.5,277.6 486.0,278.2 487.5,278.8 489.0,279.4 490.5,280.0 492.0,280.6 493.5,281.3 495.0,281.9 496.5,282.5 498.0,283.1 499.5,283.7 501.0,284.4 502.5,285.0 503.8,285.5" fill="none" stroke="#1b4f8c" stroke-width="1.5" stroke-linejoin="round" stroke-linecap="round"/>
<polyline points="313.5,228.5 319.7,228.5 323.5,229.0 327.4,229.5 330.5,230.0 332.0,230.8 335.1,231.3 341.2,231.5 343.5,232.5 348.9,232.5 350.0,233.0 357.7,233.5 361.5,234.2 363.1,235.3 371.5,235.7 374.6,236.5 377.7,236.6 379.2,238.0 386.2,238.3 387.7,239.6 389.2,240.5 393.8,240.3 399.6,240.2" fill="none" stroke="#3cb44a" stroke-width="1.5" stroke-linejoin="round" stroke-linecap="round"/>
<polyline points="313.5,228.8 315.0,229.0 316.5,229.2 318.0,229.4 319.5,229.6 321.0,229.8 322.5,230.0 324.0,230.2 325.5,230.4 327.0,230.6 328.5,230.8 330.0,231.0 331.5,231.2 333.0,231.4 334.5,231.7 336.0,231.9 337.5,232.1 339.0,232.3 340.5,232.6 342.0,232.8 343.5,233.0 345.0,233.3 346.5,233.5 348.0,233.8 349.5,234.0 351.0,234.3 352.5,234.6 354.0,234.8 355.5,235.1 357.0,235.4 358.5,235.6 360.0,235.9 361.5,236.2 363.0,236.5 364.5,236.8 366.0,237.1 367.5,237.4 369.0,237.7 370.5,238.0 372.0,238.3 373.5,238.6 375.0,238.9 376.5,239.2 378.0,239.5 379.5,239.9 381.0,240.2 382.5,240.5 384.0,240.9 385.5,241.2 387.0,241.6 388.5,241.9 390.0,242.3 391.5,242.6 393.0,243.0 394.5,243.4 396.0,243.7 397.5,244.1 399.0,244.5 400.5,244.9 402.0,245.3 403.5,245.7 405.0,246.1 406.5,246.5 408.0,246.9 409.5,247.3 411.0,247.7 412.5,248.1 414.0,248.6 415.5,249.0 417.0,249.4 418.5,249.9 420.0,250.3 421.5,250.8 423.0,251.2 424.5,251.7 426.0,252.1 427.5,252.6 429.0,253.0 430.5,253.5 432.0,254.0 433.5,254.4 435.0,254.9 436.5,255.4 438.0,255.9 439.5,256.4 441.0,256.9 442.5,257.3 444.0,257.8 445.5,258.3 447.0,258.8 448.5,259.3 450.0,259.8 451.5,260.4 453.0,260.9 454.5,261.4 456.0,261.9 457.5,262.4 459.0,262.9 460.5,263.4 462.0,264.0 463.5,264.5 465.0,265.0 466.5,265.5 468.0,266.1 469.5,266.6 471.0,267.1 472.5,267.7 474.0,268.2 475.5,268.7 477.0,269.3 478.5,269.8 480.0,270.3 481.5,270.9 483.0,271.4 484.5,272.0 486.0,272.5 487.5,273.1 489.0,273.6 490.5,274.1 492.0,274.7 493.5,275.2 495.0,275.8 496.5,276.3 498.0,276.9 499.5,277.4 501.0,278.0 502.5,278.5 504.0,279.1 505.0,279.4" fill="none" stroke="#c8102e" stroke-width="1.5" stroke-linejoin="round" stroke-linecap="round"/>
<line x1="319.7" y1="331.00" x2="332.2" y2="331.00" stroke="#c8102e" stroke-width="1.45"/>
<text x="335.00" y="333.20" font-size="7.9" font-family="Liberation Sans, sans-serif" fill="#1a1a1a" stroke="#1a1a1a" stroke-width="0.1" textLength="60.4" lengthAdjust="spacingAndGlyphs">D-VTd (estimated)</text>
<line x1="319.7" y1="340.40" x2="332.2" y2="340.40" stroke="#1b4f8c" stroke-width="1.45"/>
<text x="335.00" y="342.60" font-size="7.9" font-family="Liberation Sans, sans-serif" fill="#1a1a1a" stroke="#1a1a1a" stroke-width="0.1" textLength="53.2" lengthAdjust="spacingAndGlyphs">VTd (estimated)</text>
<line x1="319.7" y1="350.00" x2="332.2" y2="350.00" stroke="#3cb44a" stroke-width="1.45"/>
<text x="335.00" y="352.20" font-size="7.9" font-family="Liberation Sans, sans-serif" fill="#1a1a1a" stroke="#1a1a1a" stroke-width="0.1" textLength="70.8" lengthAdjust="spacingAndGlyphs">D-VTd (CASSIOPEIA)</text>
<line x1="319.7" y1="359.60" x2="332.2" y2="359.60" stroke="#56277f" stroke-width="1.45"/>
<text x="335.00" y="361.80" font-size="7.9" font-family="Liberation Sans, sans-serif" fill="#1a1a1a" stroke="#1a1a1a" stroke-width="0.1" textLength="63.1" lengthAdjust="spacingAndGlyphs">VTd (CASSIOPEIA)</text>
<rect x="0" y="0" width="520" height="1.3" fill="#000"/>
<rect x="0" y="0" width="1.2" height="401" fill="#000"/>
<rect x="518.2" y="0" width="1.8" height="401" fill="#000"/>
<rect x="0" y="399.2" width="520" height="1.8" fill="#000"/>
</svg>
</body></html>
